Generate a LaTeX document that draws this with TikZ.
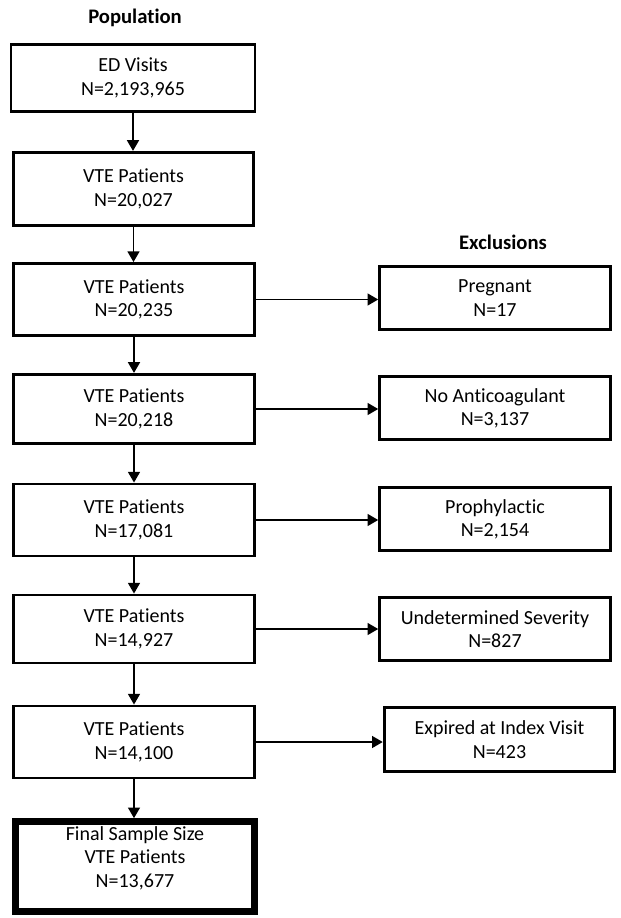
\documentclass[tikz,border=0pt]{standalone}
\usepackage{fontspec}
\setmainfont{Carlito}[RawFeature={-liga;-calt;-dlig;-clig}]
\usetikzlibrary{arrows.meta}
\begin{document}
\begin{tikzpicture}[x=0.75pt,y=-0.75pt,
  txt/.style={font=\fontsize{15}{17.5}\selectfont, align=center, inner sep=0pt},
  lbox/.style={txt, draw, line width=2.2pt, minimum width=181pt, minimum height=54pt},
  rbox/.style={txt, draw, line width=2.2pt, minimum width=173pt, minimum height=47.5pt},
  fbox/.style={draw, line width=5pt, minimum width=179pt, minimum height=67.5pt, inner sep=0pt},
  head/.style={font=\fontsize{15.5}{18}\selectfont\bfseries, inner sep=0pt},
  arr/.style={line width=1.1pt, -{Triangle[width=9pt,length=8pt]}}]
\useasboundingbox (0,0) rectangle (621,918);
\node[head] (pop) at (135,18) {Population};
\node[head] (exc) at (503,242) {Exclusions};
\node[lbox, minimum width=183pt, minimum height=50pt] (b1) at (133,78) {ED Visits\\N=2,193,965};
\node[lbox, minimum width=180pt, minimum height=55pt] (b2) at (133.5,189) {VTE Patients\\N=20,027};
\node[lbox] (b3) at (134,299.5) {VTE Patients\\N=20,235};
\node[lbox, minimum height=52pt] (b4) at (134,409) {VTE Patients\\N=20,218};
\node[lbox] (b5) at (134,520) {VTE Patients\\N=17,081};
\node[lbox, minimum height=51pt] (b6) at (134,629) {VTE Patients\\N=14,927};
\node[lbox] (b7) at (134,742) {VTE Patients\\N=14,100};
\node[fbox] (b8) at (135,866.5) {};
\node[txt] (b8t) at (135,858) {Final Sample Size\\VTE Patients\\N=13,677};
\node[rbox] (r1) at (495,298) {Pregnant\\N=17};
\node[rbox] (r2) at (495,408) {No Anticoagulant\\N=3,137};
\node[rbox] (r3) at (495,519) {Prophylactic\\N=2,154};
\node[rbox] (r4) at (495,629) {Undetermined Severity\\N=827};
\node[rbox] (r5) at (499.5,739.5) {Expired at Index Visit\\N=423};
\foreach \a/\b in {b1/b2,b2/b3,b3/b4,b4/b5,b5/b6,b6/b7,b7/b8}
  \draw[arr] (\a.south) -- (\a.south |- \b.north);
\foreach \a/\b in {b3/r1,b4/r2,b5/r3,b6/r4,b7/r5}
  \draw[arr] (\a.east) -- (\b.west |- \a.east);
\end{tikzpicture}
\end{document}
